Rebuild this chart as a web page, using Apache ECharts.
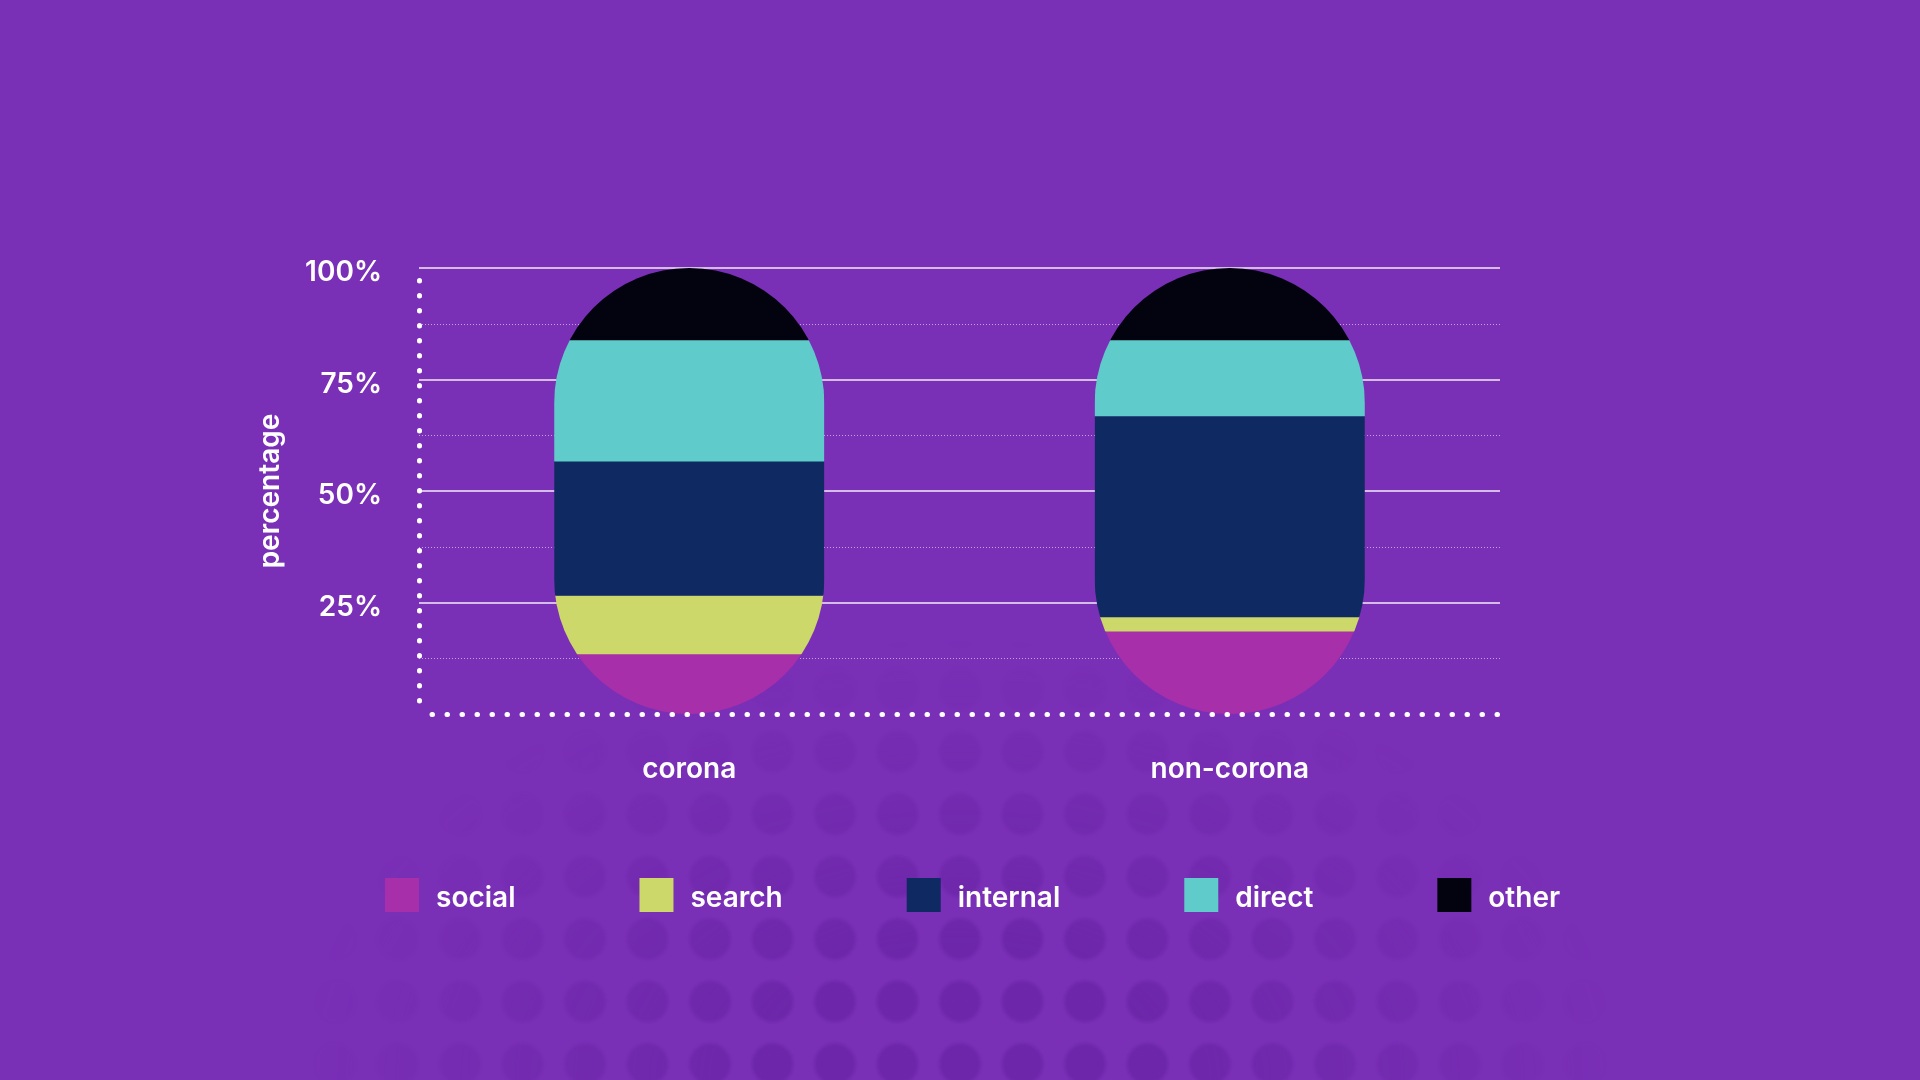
<!DOCTYPE html>
<html lang="en">

<head>
    <meta charset="UTF-8" />
    <title>traffic sources - corona vs non-corona</title>
    <script src="https://cdn.jsdelivr.net/npm/echarts@6/dist/echarts.min.js"></script>
    <style>
        html,
        body {
            margin: 0;
            padding: 0;
            width: 1920px;
            height: 1080px;
            overflow: hidden;
            background: #7a2fb7;
        }

        /* faint dot pattern behind the legend */
        .bg-dots {
            position: absolute;
            left: 0;
            top: 0;
            width: 1920px;
            height: 1080px;
            background-image: radial-gradient(circle, rgba(96, 30, 156, 0.5) 0, rgba(96, 30, 156, 0.5) 18px, rgba(96, 30, 156, 0) 23px);
            background-size: 62.5px 62.5px;
            background-position: 53.75px 32.75px;
            -webkit-mask-image: radial-gradient(ellipse 660px 440px at 50% 100%, #000 30%, rgba(0, 0, 0, 0) 100%);
            mask-image: radial-gradient(ellipse 660px 440px at 50% 100%, #000 30%, rgba(0, 0, 0, 0) 100%);
        }

        #chart {
            position: absolute;
            left: 0;
            top: 0;
            width: 1920px;
            height: 1080px;
        }
    </style>
</head>

<body>
    <div class="bg-dots"></div>
    <div id="chart"></div>
    <script type="text/javascript">
        // data (percent of traffic)
        var categories = ['corona', 'non-corona'];
        var sources = ['social', 'search', 'internal', 'direct', 'other'];
        var social = [13.5, 18.6];
        var search = [13.1, 3.2];
        var internal = [30.1, 45.1];
        var direct = [27.2, 17.0];
        var other = [16.1, 16.1];
        var yTicks = [0, 25, 50, 75, 100];

        var colors = ['#a72fa9', '#cdd86a', '#0f2a62', '#5fcbca', '#03030f'];
        var font = 'Inter, "Noto Sans", sans-serif';

        var myChart = echarts.init(document.getElementById('chart'));

        // stack the parts so every segment gets [category, base, top]
        var parts = [social, search, internal, direct, other];
        var running = categories.map(function () { return 0; });
        var stacked = parts.map(function (arr) {
            return arr.map(function (v, i) {
                var base = running[i];
                running[i] = base + v;
                return [i, base, running[i]];
            });
        });

        // each segment is a plain rect, clipped by one pill covering 0..100
        function renderSegment(params, api) {
            var cat = api.value(0);
            var lo = api.coord([cat, api.value(1)]);
            var hi = api.coord([cat, api.value(2)]);
            var bottom = api.coord([cat, yTicks[0]]);
            var top = api.coord([cat, yTicks[yTicks.length - 1]]);
            var bw = api.size([1, 0])[0] * 0.5;
            var x = lo[0] - bw / 2;
            return {
                type: 'rect',
                shape: { x: x, y: hi[1], width: bw, height: lo[1] - hi[1] + 0.5 },
                style: { fill: api.visual('color') },
                clipPath: {
                    type: 'rect',
                    shape: { x: x, y: top[1], width: bw, height: bottom[1] - top[1], r: bw / 2 }
                }
            };
        }

        var whiteText = {
            color: '#ffffff',
            fontSize: 28,
            fontWeight: 600,
            fontFamily: font
        };

        var option = {
            backgroundColor: 'transparent',
            textStyle: { fontFamily: font },
            grid: {
                left: 419,
                right: 420,
                top: 268,
                bottom: 366
            },
            legend: {
                left: 385,
                top: 878,
                padding: 0,
                icon: 'rect',
                itemWidth: 34,
                itemHeight: 34,
                itemGap: 124,
                data: sources,
                formatter: '{a|{name}}',
                textStyle: {
                    color: '#ffffff',
                    fontSize: 28,
                    fontWeight: 600,
                    fontFamily: font,
                    rich: {
                        a: Object.assign({ padding: [7, 0, 0, 12] }, whiteText)
                    }
                }
            },
            xAxis: {
                type: 'category',
                data: categories,
                z: 5,
                axisLine: {
                    show: true,
                    lineStyle: {
                        color: '#ffffff',
                        width: 5,
                        type: [0.5, 14.5],
                        dashOffset: -13,
                        cap: 'round'
                    }
                },
                axisTick: { show: false },
                axisLabel: Object.assign({ margin: 42 }, whiteText),
                splitLine: { show: false }
            },
            yAxis: {
                type: 'value',
                min: yTicks[0],
                max: yTicks[yTicks.length - 1],
                interval: yTicks[1] - yTicks[0],
                name: 'percentage',
                nameLocation: 'middle',
                nameRotate: 90,
                nameGap: 134,
                nameTextStyle: whiteText,
                axisLine: {
                    show: true,
                    lineStyle: {
                        color: '#ffffff',
                        width: 5,
                        type: [0.5, 14.5],
                        dashOffset: -13,
                        cap: 'round'
                    }
                },
                axisTick: { show: false },
                minorTick: { show: false, splitNumber: 2 },
                axisLabel: Object.assign({
                    margin: 37,
                    showMinLabel: false,
                    formatter: '{a|{value}%}',
                    rich: {
                        a: Object.assign({ padding: [10, 0, 0, 0] }, whiteText)
                    }
                }, whiteText),
                splitLine: {
                    show: true,
                    showMinLine: false,
                    lineStyle: { color: 'rgba(255,255,255,0.9)', width: 1.5 }
                },
                minorSplitLine: {
                    show: true,
                    lineStyle: { color: 'rgba(255,255,255,0.55)', width: 1, type: [1, 2] }
                }
            },
            series: sources.map(function (name, k) {
                return {
                    name: name,
                    type: 'custom',
                    renderItem: renderSegment,
                    itemStyle: { color: colors[k] },
                    encode: { x: 0, y: [1, 2] },
                    data: stacked[k]
                };
            })
        };

        myChart.setOption(option);
    </script>
</body>

</html>
